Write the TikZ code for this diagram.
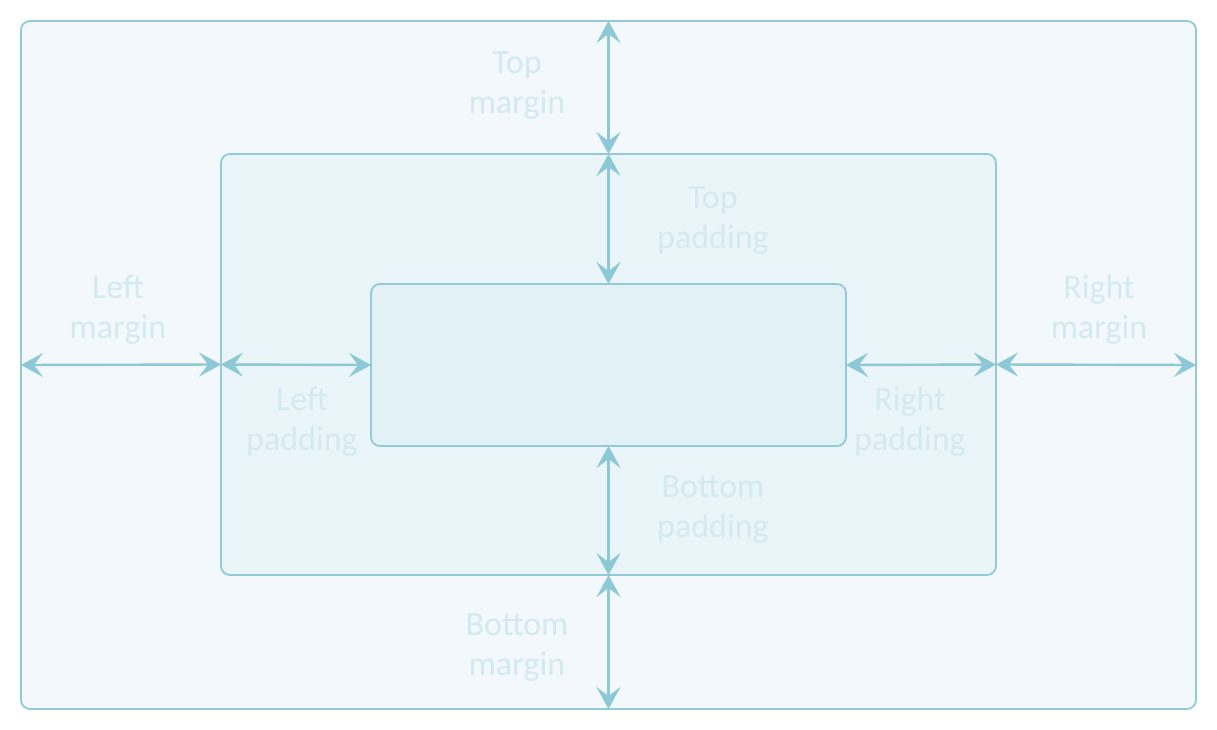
\documentclass[tikz,border=0pt]{standalone}
\usepackage{fontspec}
\setmainfont{Carlito}
\usetikzlibrary{arrows.meta}
\definecolor{edge}{HTML}{92CBD7}
\definecolor{arr}{HTML}{8CC8D5}
\definecolor{outerfill}{HTML}{F2F8FB}
\definecolor{midfill}{HTML}{E9F5F8}
\definecolor{innerfill}{HTML}{E2F1F5}
\definecolor{lbl}{HTML}{D4EAF0}
\tikzset{
  box/.style={draw=edge, line width=1.8pt, rounded corners=9pt, inner sep=0pt, outer sep=0pt},
  dimhead/.tip={Stealth[length=22pt 0,width=24pt 0,inset=9pt 0]},
  dim/.style={draw=arr, line width=2.4pt, arrows={dimhead-dimhead}},
  lab/.style={text=lbl, align=center, font=\fontsize{34}{40}\selectfont, inner sep=0pt}
}
\begin{document}
\begin{tikzpicture}[x=1pt,y=-1pt]
\useasboundingbox (0,0) rectangle (1217,730);
\node[box, fill=outerfill, minimum width=1175pt, minimum height=688pt] (outer) at (608.5,365) {};
\node[box, fill=midfill, minimum width=775pt, minimum height=421pt] (mid) at (608.5,364.5) {};
\node[box, fill=innerfill, minimum width=475pt, minimum height=162pt] (inner) at (608.5,365) {};
\draw[dim] (outer.north) -- (mid.north);
\draw[dim] (mid.north) -- (inner.north);
\draw[dim] (inner.south) -- (mid.south);
\draw[dim] (mid.south) -- (outer.south);
\draw[dim] (outer.west) -- (mid.west);
\draw[dim] (mid.west) -- (inner.west);
\draw[dim] (inner.east) -- (mid.east);
\draw[dim] (mid.east) -- (outer.east);
\node[lab] (tm) at (517,86) {Top\\margin};
\node[lab] (tp) at (713,221) {Top\\padding};
\node[lab] (lm) at (118,310) {Left\\margin};
\node[lab] (lp) at (302,422) {Left\\padding};
\node[lab] (rp) at (910,422) {Right\\padding};
\node[lab] (rm) at (1099,310) {Right\\margin};
\node[lab] (bp) at (713,510) {Bottom\\padding};
\node[lab] (bm) at (517,648) {Bottom\\margin};
\end{tikzpicture}
\end{document}
